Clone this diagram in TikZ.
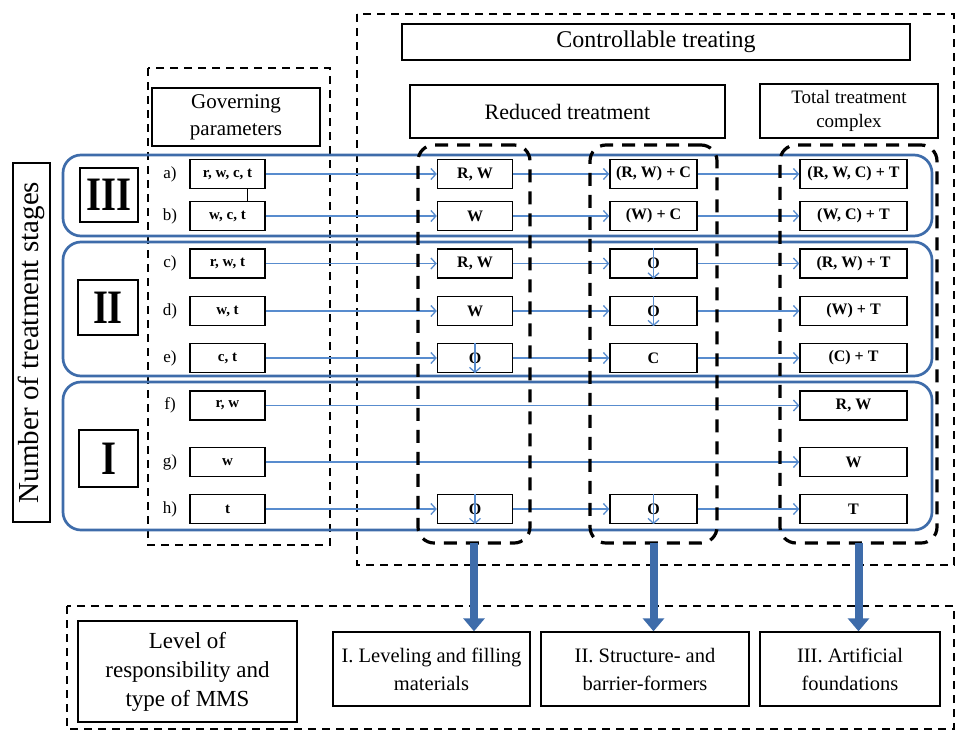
\documentclass[tikz,border=0pt]{standalone}
\usepackage{fontspec}
\setmainfont{Liberation Serif}
\usetikzlibrary{arrows.meta}

\definecolor{stageblue}{RGB}{62,108,170}
\definecolor{flowblue}{RGB}{88,140,206}

\begin{document}
\begin{tikzpicture}[x=1pt, y=-1pt,
    box/.style={draw, line width=1.4pt, fill=white, align=center, inner sep=0pt},
    parbox/.style={box, minimum width=75pt, minimum height=29pt, font=\fontsize{15}{15}\selectfont\bfseries},
    resbox/.style={box, minimum height=29pt, font=\fontsize{16}{16}\selectfont\bfseries},
    numbox/.style={box, font=\fontsize{48}{48}\selectfont\bfseries},
    region/.style={draw, line width=2.8pt, dash pattern=on 8pt off 6pt},
    groupbox/.style={draw, line width=3.2pt, dash pattern=on 13pt off 9pt, rounded corners=16pt, inner sep=0pt},
    stage/.style={draw=stageblue, line width=2.7pt, rounded corners=18pt},
    flow/.style={draw=flowblue, line width=1.3pt, -{Straight Barb[length=5pt, width=11pt]}},
    bigflow/.style={draw=stageblue, line width=8pt, -{Triangle[length=13pt, width=21pt]}}]

	\useasboundingbox (0,0) rectangle (957,731);

	% Column positions
	\def\xone{475}
	\def\xtwo{653.5}
	\def\xthree{853.5}

	% Regions
	\draw[region] (357,14) rectangle (954,565);
	\draw[region] (148,68) rectangle (330,545);
	\draw[region] (67,606) rectangle (954,729);

	% Stages
	\draw[stage] (63,155) rectangle (932,236);
	\draw[stage] (63,242) rectangle (932,376);
	\draw[stage] (63,382) rectangle (932,530);

	% Headers
	\node[box, minimum width=508pt, minimum height=36pt, font=\fontsize{24}{24}\selectfont] (ctrl) at (656,42) {Controllable treating};
	\node[box, minimum width=168pt, minimum height=58pt, font=\fontsize{21}{27}\selectfont] (gov) at (236,117) {Governing\\parameters};
	\node[box, minimum width=315pt, minimum height=53pt, font=\fontsize{22}{22}\selectfont] (red) at (567.5,111.5) {Reduced treatment};
	\node[box, minimum width=178pt, minimum height=54pt, font=\fontsize{19}{24}\selectfont] (tot) at (849,111) {Total treatment\\complex};
	\node[box, rotate=90, minimum width=359pt, minimum height=37pt, font=\fontsize{29}{29}\selectfont] (num) at (31.5,342.5) {Number of treatment stages};

	% Stage numbers
	\node[numbox, minimum width=58pt, minimum height=54pt] (s3) at (109,195) {\scalebox{0.8}[1]{III}};
	\node[numbox, minimum width=60pt, minimum height=55pt] (s2) at (108,307.5) {\scalebox{0.8}[1]{II}};
	\node[numbox, minimum width=59pt, minimum height=57pt] (s1) at (108.5,458.5) {\scalebox{0.8}[1]{I}};

	% Governing parameters
	\foreach \r/\y/\txt in {a/174/{r, w, c, t}, b/216/{w, c, t}, c/263.5/{r, w, t}, d/311/{w, t},
	                        e/358/{c, t}, f/405.5/{r, w}, g/462/{w}, h/509/{t}} {
		\node[font=\fontsize{17}{17}\selectfont] (l\r) at (170,\y) {\r)};
		\node[parbox] (p\r) at (227.5,\y) {\txt};
	}
	\draw[line width=1.4pt] ([xshift=20pt]pa.south) -- ([xshift=20pt]pb.north);

	% Reduced treatment
	\node[resbox, minimum width=75pt] (a1) at (\xone,174) {R, W};
	\node[resbox, minimum width=75pt] (b1) at (\xone,216) {W};
	\node[resbox, minimum width=75pt] (c1) at (\xone,263.5) {R, W};
	\node[resbox, minimum width=75pt] (d1) at (\xone,311) {W};
	\node[resbox, minimum width=75pt] (e1) at (\xone,358) {O};
	\node[resbox, minimum width=75pt] (h1) at (\xone,509) {O};

	\node[resbox, minimum width=87pt] (a2) at (\xtwo,174) {(R, W) + C};
	\node[resbox, minimum width=87pt] (b2) at (\xtwo,216) {(W) + C};
	\node[resbox, minimum width=87pt] (c2) at (\xtwo,263.5) {O};
	\node[resbox, minimum width=87pt] (d2) at (\xtwo,311) {O};
	\node[resbox, minimum width=87pt] (e2) at (\xtwo,358) {C};
	\node[resbox, minimum width=87pt] (h2) at (\xtwo,509) {O};

	% Total treatment complex
	\node[resbox, minimum width=107pt] (a3) at (\xthree,174) {(R, W, C) + T};
	\node[resbox, minimum width=107pt] (b3) at (\xthree,216) {(W, C) + T};
	\node[resbox, minimum width=107pt] (c3) at (\xthree,263.5) {(R, W) + T};
	\node[resbox, minimum width=107pt] (d3) at (\xthree,311) {(W) + T};
	\node[resbox, minimum width=107pt] (e3) at (\xthree,358) {(C) + T};
	\node[resbox, minimum width=107pt] (f3) at (\xthree,405.5) {R, W};
	\node[resbox, minimum width=107pt] (g3) at (\xthree,462) {W};
	\node[resbox, minimum width=107pt] (h3) at (\xthree,509) {T};

	% Flows
	\foreach \r in {a,b,c,d,e} {
		\draw[flow] (p\r) -- (\r1);
		\draw[flow] (\r1) -- (\r2);
		\draw[flow] (\r2) -- (\r3);
	}
	\draw[flow] (pf) -- (f3);
	\draw[flow] (pg) -- (g3);
	\draw[flow] (ph) -- (h1);
	\draw[flow] (h1) -- (h2);
	\draw[flow] (h2) -- (h3);
	\foreach \o in {c2,d2,e1,h1,h2}
		\draw[flow] (\o.north) -- (\o.south);

	% Groups
	\node[groupbox, minimum width=112pt, minimum height=398pt] (grp1) at (474,344) {};
	\node[groupbox, minimum width=127pt, minimum height=398pt] (grp2) at (653.5,344) {};
	\node[groupbox, minimum width=157pt, minimum height=398pt] (grp3) at (858.5,344) {};

	% Level of responsibility
	\node[box, minimum width=219pt, minimum height=101pt, font=\fontsize{23}{29}\selectfont] (lvl) at (187.5,671.5) {Level of\\responsibility and\\type of MMS};
	\node[box, minimum width=197pt, minimum height=74pt, font=\fontsize{20.5}{28}\selectfont] (mms1) at (431.5,669) {I. Leveling and filling\\materials};
	\node[box, minimum width=208pt, minimum height=74pt, font=\fontsize{20.5}{28}\selectfont] (mms2) at (645,669) {II. Structure- and\\barrier-formers};
	\node[box, minimum width=180pt, minimum height=74pt, font=\fontsize{20.5}{28}\selectfont] (mms3) at (850,669) {III. Artificial\\foundations};

	\draw[bigflow] ([yshift=2pt]grp1.south) -- (grp1.south |- mms1.north);
	\draw[bigflow] ([yshift=2pt]grp2.south) -- (grp2.south |- mms2.north);
	\draw[bigflow] ([yshift=2pt]grp3.south) -- (grp3.south |- mms3.north);

\end{tikzpicture}
\end{document}
